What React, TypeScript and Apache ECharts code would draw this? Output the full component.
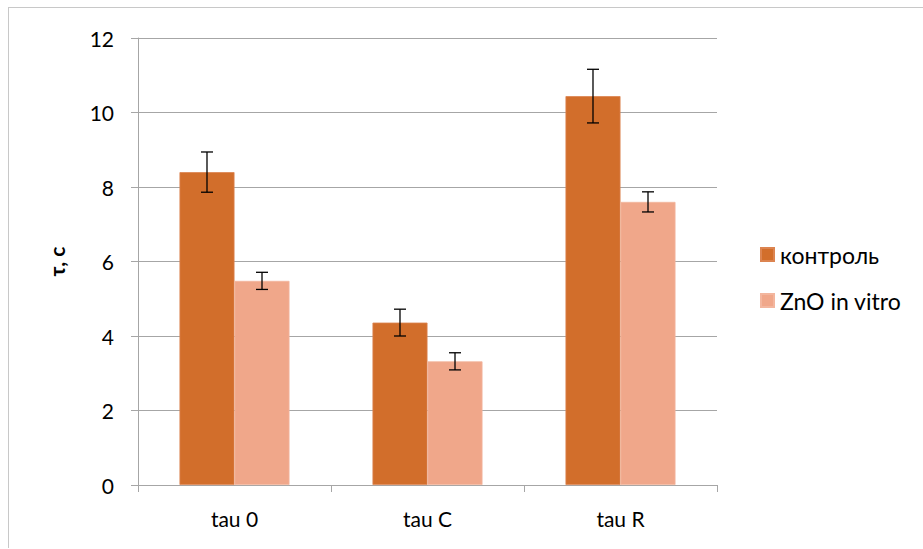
import React, { useEffect, useRef } from "react";
import * as echarts from "echarts";

const categories = ["tau 0", "tau C", "tau R"];
const seriesNames = ["контроль", "ZnO in vitro"];
const controlValues = [8.4, 4.36, 10.44];
const controlErrors = [0.54, 0.36, 0.72];
const znoValues = [5.48, 3.32, 7.6];
const znoErrors = [0.23, 0.23, 0.27];
const yTicks = [0, 2, 4, 6, 8, 10, 12];
const yTitle = "τ, c";

const colors = ["#d26e2b", "#f0a78a"];
const GAP = 0.43;

function errorSeries(values: number[], errors: number[], idx: number) {
  return {
    type: "custom",
    name: seriesNames[idx] + " err",
    silent: true,
    z: 10,
    data: values.map((v, i) => [i, v, errors[i]]),
    renderItem: (params: any, api: any) => {
      const ci = api.value(0);
      const v = api.value(1);
      const e = api.value(2);
      const band = api.size([1, 0])[0];
      const bw = (band * (1 - GAP)) / 2;
      const off = idx === 0 ? -bw / 2 : bw / 2;
      const top = api.coord([ci, v + e]);
      const bot = api.coord([ci, v - e]);
      const x = top[0] + off;
      const cap = 6;
      const style = { stroke: "#000", lineWidth: 1.3 };
      return {
        type: "group",
        children: [
          { type: "line", shape: { x1: x, y1: top[1], x2: x, y2: bot[1] }, style },
          { type: "line", shape: { x1: x - cap, y1: top[1], x2: x + cap, y2: top[1] }, style },
          { type: "line", shape: { x1: x - cap, y1: bot[1], x2: x + cap, y2: bot[1] }, style },
        ],
      };
    },
  };
}

export default function App() {
  const ref = useRef<HTMLDivElement>(null);
  useEffect(() => {
    if (!ref.current) return;
    const chart = echarts.init(ref.current, null, { renderer: "svg" });
    const font = "Lato, 'Open Sans', sans-serif";
    chart.setOption({
      animation: false,
      textStyle: { fontFamily: font },
      grid: { left: 129, top: 30, right: 206, bottom: 63, containLabel: false },
      legend: {
        orient: "vertical",
        left: 751,
        top: 235,
        padding: 0,
        itemWidth: 13,
        itemHeight: 13,
        itemGap: 23,
        icon: "rect",
        textStyle: { fontSize: 23, color: "#000", fontFamily: font, padding: [0, 0, 0, 1] },
        data: seriesNames,
      },
      xAxis: {
        type: "category",
        data: categories,
        axisLine: { lineStyle: { color: "#a6a6a6", width: 1 } },
        axisTick: { show: true, length: 7, lineStyle: { color: "#a6a6a6" } },
        axisLabel: { fontSize: 21, color: "#000", margin: 23, fontFamily: font },
      },
      yAxis: {
        type: "value",
        min: 0,
        max: 12,
        interval: 2,
        name: yTitle,
        nameLocation: "middle",
        nameGap: 71,
        nameRotate: 90,
        nameTextStyle: { fontSize: 21, fontWeight: "bold", color: "#000", fontFamily: font },
        axisLine: { show: true, lineStyle: { color: "#a6a6a6", width: 1 } },
        axisTick: { show: true, length: 7, lineStyle: { color: "#a6a6a6" } },
        axisLabel: {
          fontSize: 21,
          color: "#000",
          margin: 24,
          fontFamily: font,
          formatter: (v: number) => (yTicks.includes(v) ? String(v) : ""),
        },
        splitLine: { show: true, lineStyle: { color: "#a6a6a6", width: 1 } },
      },
      series: [
        {
          type: "bar",
          name: seriesNames[0],
          data: controlValues,
          barGap: "0%",
          barCategoryGap: GAP * 100 + "%",
          itemStyle: { color: colors[0], borderColor: "#dc8450", borderWidth: 0.8 },
        },
        {
          type: "bar",
          name: seriesNames[1],
          data: znoValues,
          barGap: "0%",
          barCategoryGap: GAP * 100 + "%",
          itemStyle: { color: colors[1], borderColor: "#f3b69e", borderWidth: 0.8 },
        },
        errorSeries(controlValues, controlErrors, 0),
        errorSeries(znoValues, znoErrors, 1),
      ],
    });
    return () => chart.dispose();
  }, []);
  return (
    <div
      ref={ref}
      style={{
        width: 915,
        height: 541,
        boxSizing: "border-box",
        borderTop: "1px solid #c8c8c8",
        borderLeft: "1px solid #c8c8c8",
        position: "absolute",
        left: 8,
        top: 7,
        overflow: "hidden",
      }}
    />
  );
}
